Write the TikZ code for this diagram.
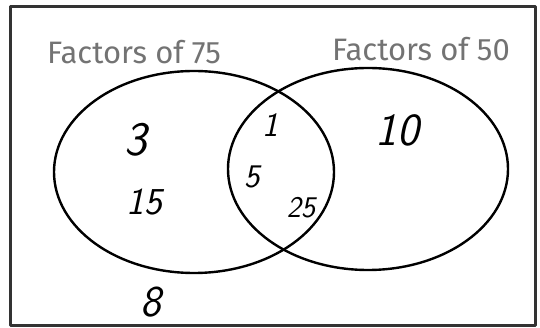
\documentclass[tikz,border=0pt]{standalone}
\usepackage{fontspec}
\newfontfamily\labelfont{Fira Sans}
\begin{document}
\begin{tikzpicture}[x=1pt, y=-1pt, line join=round, line cap=round,
	set/.style={text=black!55, inner sep=0pt, font=\labelfont\fontsize{31}{31}\selectfont},
	num/.style={inner sep=0pt, font=\sffamily\slshape\fontsize{#1}{#1}\selectfont},
	num/.default=40]
	\useasboundingbox (0,0) rectangle (540,328);
	\def\ra{140}	\def\rb{101}
	\draw[line width=3pt, black!80] (10,7) rectangle (535,325);
	\draw[line width=2.4pt] (194,172) ellipse [x radius=\ra, y radius=\rb];
	\draw[line width=2.4pt] (368,169) ellipse [x radius=\ra, y radius=\rb];
	\node[set] (f75) at (134,52) {Factors of 75};
	\node[set] (f50) at (421,49) {Factors of 50};
	\node[num=48] (n3) at (136,140) {3};
	\node[num=38] (n15) at (144,202) {15};
	\node[num=44] (n8) at (151,302) {8};
	\node[num=34] (n1) at (270,125) {1};
	\node[num=33] (n5) at (252,177) {5};
	\node[num=30] (n25) at (301,208) {25};
	\node[num=46] (n10) at (397,130) {10};
\end{tikzpicture}
\end{document}
